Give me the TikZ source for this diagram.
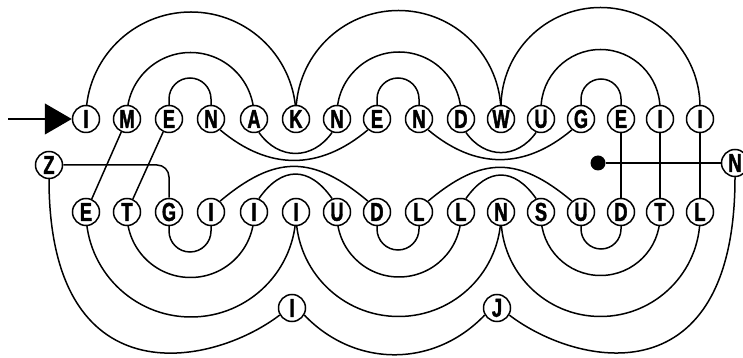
\documentclass[tikz,border=0pt]{standalone}
\usepackage{fontspec}
\usetikzlibrary{arrows.meta,backgrounds,calc}
\newfontfamily\lettrfont[FakeStretch=0.7,FakeBold=1.5]{Liberation Sans}

\begin{document}
\begin{tikzpicture}[
    x=1pt,y=1pt,
    letter/.style={circle,draw,fill=white,line width=1.5pt,minimum size=27pt,
      inner sep=0pt,font=\lettrfont\bfseries\fontsize{26}{26}\selectfont},
    wire/.style={line width=1.5pt},
    arrow/.style={-{Triangle[length=27pt,width=31pt]},line width=1.2pt},
    over/.style={to path={let \p1=(\tikztostart),\p2=(\tikztotarget),
      \n1={(\x2-\x1)/2} in (\p1) -- ++(0,#1)
      arc[start angle=180,end angle=0,radius=\n1] -- (\p2)}},
    over/.default=0,
    under/.style={to path={let \p1=(\tikztostart),\p2=(\tikztotarget),
      \n1={(\x2-\x1)/2} in (\p1) -- ++(0,-#1)
      arc[start angle=180,end angle=360,radius=\n1] -- (\p2)}},
    under/.default=0
  ]
    \useasboundingbox (0,0) rectangle (743,358);

    % top row
    \node[letter] (ti)  at (86,239)  {I};
    \node[letter] (tm)  at (127,239) {M};
    \node[letter] (te)  at (169,239) {E};
    \node[letter] (tn)  at (211,239) {N};
    \node[letter] (ta)  at (254,239) {A};
    \node[letter] (tk)  at (296,239) {K};
    \node[letter] (tn2) at (337,239) {N};
    \node[letter] (te2) at (377,239) {E};
    \node[letter] (tn3) at (419,239) {N};
    \node[letter] (td)  at (461,239) {D};
    \node[letter] (tw)  at (501,239) {W};
    \node[letter] (tu)  at (541,239) {U};
    \node[letter] (tg)  at (581,239) {G};
    \node[letter] (te3) at (621,239) {E};
    \node[letter] (ti2) at (660,239) {I};
    \node[letter] (ti3) at (700,239) {I};

    % bottom row
    \node[letter] (be)  at (86,146)  {E};
    \node[letter] (bt)  at (127,146) {T};
    \node[letter] (bg)  at (169,146) {G};
    \node[letter] (bi)  at (211,146) {I};
    \node[letter] (bi2) at (254,146) {I};
    \node[letter] (bi3) at (296,146) {I};
    \node[letter] (bu)  at (337,146) {U};
    \node[letter] (bd)  at (377,146) {D};
    \node[letter] (bl)  at (419,146) {L};
    \node[letter] (bl2) at (461,146) {L};
    \node[letter] (bn)  at (501,146) {N};
    \node[letter] (bs)  at (541,146) {S};
    \node[letter] (bu2) at (581,146) {U};
    \node[letter] (bd2) at (621,146) {D};
    \node[letter] (bt2) at (660,146) {T};
    \node[letter] (bl3) at (700,146) {L};

    % loose letters
    \node[letter] (z)  at (49,193)  {Z};
    \node[letter] (nr) at (735,195) {N};
    \node[letter] (il) at (292,50)  {I};
    \node[letter] (j)  at (497,50)  {J};
    \node[circle,fill,inner sep=0pt,minimum size=15pt] (dot) at (598,195) {};
    \coordinate (start) at (8,239);

    \draw[arrow] (start) -- (ti);

    \begin{scope}[on background layer]
      % arcs over the top row
      \draw[wire] (ti) to[over=2] (tk);
      \draw[wire] (tm) to[over=3] (ta);
      \draw[wire] (te) to[over=20] (tn);
      \draw[wire] (tk) to[over=6] (tw);
      \draw[wire] (tn2) to[over=5] (td);
      \draw[wire] (te2) to[over=20] (tn3);
      \draw[wire] (tw) to[over=12] (ti3);
      \draw[wire] (tu) to[over=10] (ti2);
      \draw[wire] (tg) to[over=20] (te3);

      % arcs under the bottom row
      \draw[wire] (be) to[under] (bi3);
      \draw[wire] (bt) to[under=2] (bi2);
      \draw[wire] (bg) to[under=19] (bi);
      \draw[wire] (bi3) to[under=2] (bn);
      \draw[wire] (bu) to[under=3] (bl2);
      \draw[wire] (bd) to[under=17] (bl);
      \draw[wire] (bn) to[under=5] (bl3);
      \draw[wire] (bs) to[under=4] (bt2);
      \draw[wire] (bu2) to[under=17] (bd2);

      % between the rows
      \draw[wire] (tm) -- (be);
      \draw[wire] (te) -- (bt);
      \draw[wire,rounded corners=12pt] (z) -| (bg);
      \draw[wire] (tn.-50) to[out=-40,in=-140,looseness=1.1] (te2.-130);
      \draw[wire] (ta.-70) to[out=-55,in=-125,looseness=1.2] (tn2.-110);
      \draw[wire] (tn3.-50) to[out=-40,in=-140,looseness=1.1] (tg.-130);
      \draw[wire] (td.-70) to[out=-55,in=-125,looseness=1.2] (tu.-110);
      \draw[wire] (bi.50) to[out=40,in=140,looseness=1.25] (bd.130);
      \draw[wire] (bi2.70) to[out=55,in=125,looseness=1.4] (bu.110);
      \draw[wire] (bl.50) to[out=40,in=140,looseness=1.25] (bu2.130);
      \draw[wire] (bl2.70) to[out=55,in=125,looseness=1.4] (bs.110);
      \draw[wire] (te3) -- (bd2);
      \draw[wire] (ti2) -- (bt2);
      \draw[wire] (ti3) -- (bl3);
      \draw[wire] (dot) -- (nr);

      % outer chain
      \draw[wire] (z.south) .. controls (49,-40) and (210,-10) .. (il.-150);
      \draw[wire] (il.-30) .. controls (355,-10) and (434,-10) .. (j.-150);
      \draw[wire] (j.-30) .. controls (579,-10) and (735,-40) .. (nr.south);
    \end{scope}
  \end{tikzpicture}
\end{document}
